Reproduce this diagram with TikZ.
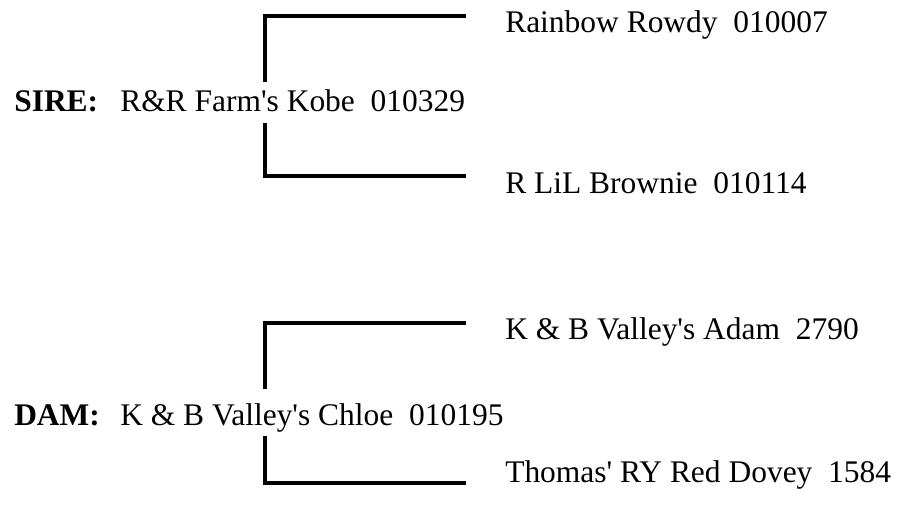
\documentclass[tikz,border=0pt]{standalone}
\usepackage{fontspec}
\setmainfont{Liberation Serif}
\usetikzlibrary{positioning}
\newcommand{\apo}{\textquotesingle}
\begin{document}
\begin{tikzpicture}[x=0.75pt,y=0.75pt,yscale=-1,xscale=1,
    every node/.style={inner sep=0pt,anchor=base west,font=\fontsize{23.6}{28}\selectfont},
    bracket/.style={line width=2.6pt}]
    \useasboundingbox (0,0) rectangle (898,507);

    % sire side
    \node (sireLbl) at (14,111) {\textbf{SIRE:}};
    \node (sire) at (120,111) {R\&R Farm\apo s Kobe\ \ 010329};
    \node (sireSire) at (505,32) {Rainbow Rowdy\ \ 010007};
    \node (sireDam) at (505,193) {R LiL Brownie\ \ 010114};
    \coordinate (sireUp) at (265,82);
    \coordinate (sireDn) at (265,123);
    \coordinate (sireSireEnd) at (466,16);
    \coordinate (sireDamEnd) at (466,176);
    \draw [bracket] (sireUp) |- (sireSireEnd);
    \draw [bracket] (sireDn) |- (sireDamEnd);

    % dam side
    \node (damLbl) at (14,425) {\textbf{DAM:}};
    \node (dam) at (120,425) {K \& B Valley\apo s Chloe\ \ 010195};
    \node (damSire) at (505,339) {K \& B Valley\apo s Adam\ \ 2790};
    \node (damDam) at (505,482) {Thomas\apo\ RY Red Dovey\ \ 1584};
    \coordinate (damUp) at (265,389);
    \coordinate (damDn) at (265,436);
    \coordinate (damSireEnd) at (466,323);
    \coordinate (damDamEnd) at (466,483);
    \draw [bracket] (damUp) |- (damSireEnd);
    \draw [bracket] (damDn) |- (damDamEnd);
\end{tikzpicture}
\end{document}
